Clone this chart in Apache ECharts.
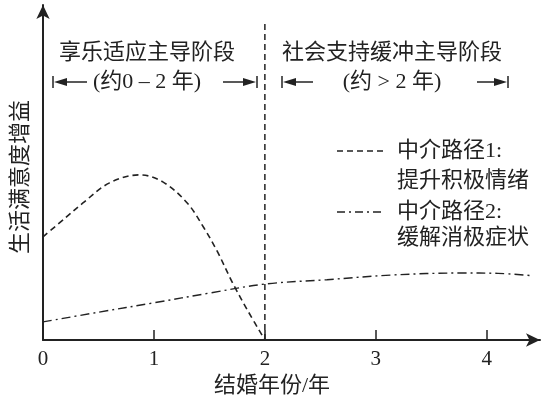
<!DOCTYPE html>
<html>
<head>
<meta charset="utf-8">
<script src="https://cdn.jsdelivr.net/npm/echarts@6/dist/echarts.min.js"></script>
<style>html,body{margin:0;padding:0;background:#fff}#c{width:543px;height:402px}</style>
</head>
<body>
<div id="c"></div>
<script>
// ---- data ----
const xTicks = [0, 1, 2, 3, 4];
const path1X = [0, 0.2, 0.36, 0.6, 0.87, 1.08, 1.3, 1.45, 1.57, 1.71, 1.85, 2.0];
const path1Y = [3.08, 3.64, 4.09, 4.69, 4.93, 4.72, 4.09, 3.35, 2.65, 1.7, 0.85, 0];
const path2X = [0, 0.5, 1, 1.5, 2, 2.56, 3.15, 3.76, 4.1, 4.41];
const path2Y = [0.54, 0.83, 1.11, 1.4, 1.67, 1.8, 1.94, 2.0, 1.99, 1.92];
const dividerX = [2, 2];
const dividerY = [0, 9.49];
const legendNames = ['中介路径1:', '提升积极情绪', '中介路径2:', '缓解消极症状'];
const phaseTitles = ['享乐适应主导阶段', '社会支持缓冲主导阶段'];
const phaseRanges = ['(约0 – 2 年)', '(约 > 2 年)'];
const xName = '结婚年份/年';
const yName = '生活满意度增益';

const FONT = "'Liberation Serif','Noto Sans CJK SC',serif";
const INK = '#222';
const zip = (a, b) => a.map((v, i) => [v, b[i]]);

function txt(text, x, y, size, align, rot) {
  return {
    type: 'text', x: x, y: y, rotation: rot || 0,
    style: { text: text, font: size + 'px ' + FONT, fill: INK,
      textAlign: align || 'center', textVerticalAlign: 'middle',
      align: align || 'center', verticalAlign: 'middle' }
  };
}
function arrow(xBar, xEnd, y) {
  // bar at xBar, arrow pointing toward xBar, shaft to xEnd
  const d = xEnd > xBar ? 1 : -1;
  const tip = xBar + d * 1;
  return [
    { type: 'line', shape: { x1: xBar, y1: y - 6, x2: xBar, y2: y + 6 }, style: { stroke: INK, lineWidth: 1.5 } },
    { type: 'line', shape: { x1: tip + d * 8, y1: y, x2: xEnd, y2: y }, style: { stroke: INK, lineWidth: 1.5 } },
    { type: 'polygon', shape: { points: [[tip, y], [tip + d * 13, y - 4], [tip + d * 13, y + 4]] }, style: { fill: INK } }
  ];
}

const graphics = [
  txt(phaseTitles[0], 147, 53, 22),
  txt(phaseRanges[0], 147, 82, 22),
  ...arrow(53, 87, 82),
  ...arrow(257, 223, 82),
  txt(phaseTitles[1], 392, 53, 22),
  txt(phaseRanges[1], 392, 82, 22),
  ...arrow(282, 313, 82),
  ...arrow(508, 477, 82),
  { type: 'line', shape: { x1: 337, y1: 151, x2: 385, y2: 151 }, style: { stroke: INK, lineWidth: 1.5, lineDash: [6, 4] } },
  { type: 'line', shape: { x1: 337, y1: 212, x2: 385, y2: 212 }, style: { stroke: INK, lineWidth: 1.5, lineDash: [8, 4, 2, 4] } },
  txt(legendNames[0], 397, 151, 22, 'left'),
  txt(legendNames[1], 397, 181, 22, 'left'),
  txt(legendNames[2], 397, 212, 22, 'left'),
  txt(legendNames[3], 397, 238, 22, 'left'),
  txt(xName, 272, 386, 22),
  txt(yName, 21, 177, 22, 'center', Math.PI / 2)
];

const chart = echarts.init(document.getElementById('c'), null, { renderer: 'canvas' });
chart.setOption({
  animation: false,
  grid: { left: 43, top: 5, width: 497, height: 335 },
  xAxis: {
    type: 'value', min: 0, max: 4.48, interval: 1,
    axisLine: { show: true, lineStyle: { color: INK, width: 2 }, symbol: ['none', 'arrow'], symbolSize: [10, 14] },
    axisTick: { show: true, inside: true, length: 10, lineStyle: { color: INK, width: 1.5 },
      customValues: xTicks },
    axisLabel: { show: true, fontSize: 21, fontFamily: FONT, color: INK, margin: 9,
      customValues: xTicks, formatter: v => xTicks.includes(v) ? String(v) : '' },
    splitLine: { show: false }
  },
  yAxis: {
    type: 'value', min: 0, max: 10,
    axisLine: { show: true, onZero: false, lineStyle: { color: INK, width: 2 }, symbol: ['none', 'arrow'], symbolSize: [10, 14] },
    axisTick: { show: false }, axisLabel: { show: false }, splitLine: { show: false }
  },
  series: [
    { type: 'line', data: zip(path1X, path1Y), smooth: 0.35, showSymbol: false,
      lineStyle: { color: INK, width: 1.6, type: [6, 4] } },
    { type: 'line', data: zip(path2X, path2Y), smooth: 0.35, showSymbol: false,
      lineStyle: { color: INK, width: 1.4, type: [9, 4, 2, 4] } },
    { type: 'line', data: zip(dividerX, dividerY), showSymbol: false,
      lineStyle: { color: INK, width: 1.5, type: [6, 4] } }
  ],
  graphic: graphics
});
</script>
</body>
</html>
